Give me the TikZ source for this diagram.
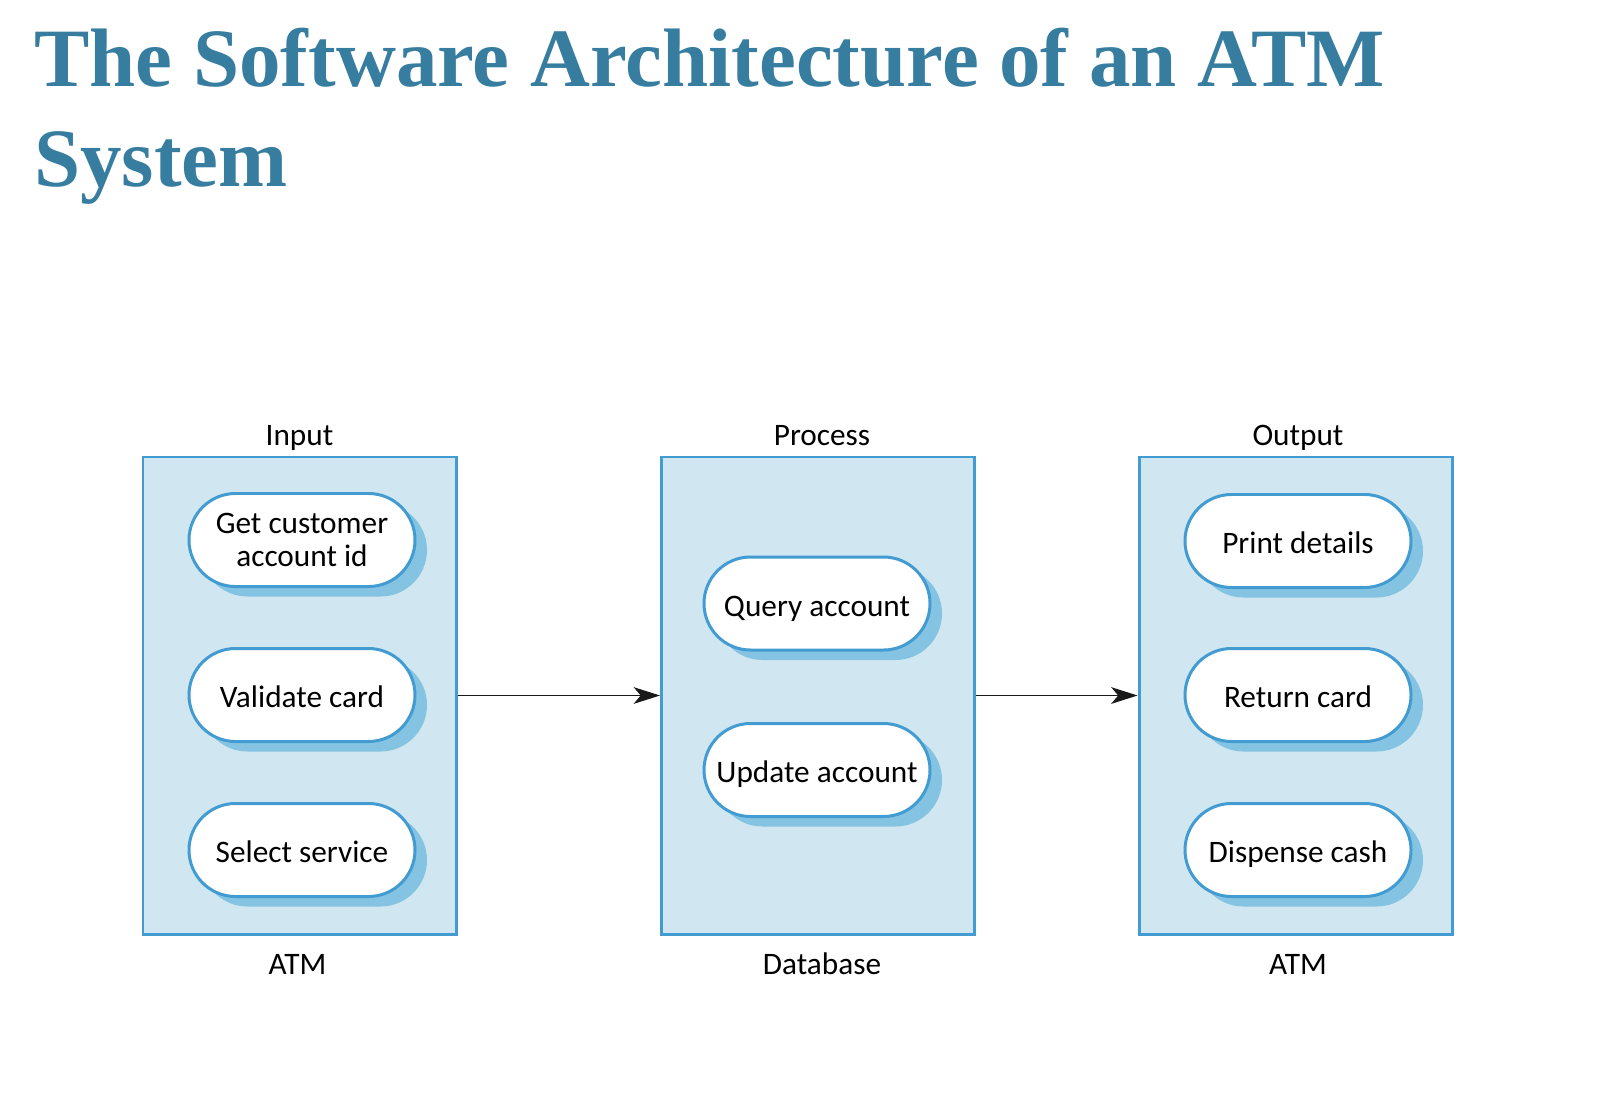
\documentclass[tikz,border=0pt]{standalone}
\usepackage{fontspec}
\setmainfont{Carlito}
\newfontfamily\titlefont{Liberation Serif}
\usetikzlibrary{arrows.meta,shapes.misc,shadows}

\definecolor{titleblue}{RGB}{55,125,160}
\definecolor{boxfill}{RGB}{208,230,240}
\definecolor{boxline}{RGB}{66,156,210}
\definecolor{shadowblue}{RGB}{132,196,226}

\tikzset{
  layer/.style={draw=boxline, fill=boxfill, line width=1.7pt, minimum width=6.26cm, minimum height=9.54cm, inner sep=0pt},
  pill/.style={rounded rectangle, draw=boxline, fill=white, line width=1.7pt, minimum width=4.52cm, minimum height=1.86cm, inner sep=0pt, align=center, font=\fontsize{17.8}{18.8}\selectfont,
    general shadow={fill=shadowblue, shadow xshift=0.24cm, shadow yshift=-0.2cm}},
  oneline/.style={text height=0.6cm, text depth=0.1cm},
  caption/.style={anchor=base, font=\fontsize{17.8}{18.8}\selectfont, inner sep=0pt},
  flow/.style={-{Stealth[length=15pt,width=9.5pt,inset=4pt]}, line width=0.7pt, black!90}
}

\begin{document}
\begin{tikzpicture}
        \useasboundingbox (0,0) rectangle (31.96,-22.2);

        % Title
        \node[anchor=north west, inner sep=0pt, align=left, text=titleblue, font=\titlefont\bfseries\fontsize{47.2}{57}\selectfont] (title) at (0.68,-0.55) {The Software Architecture of an ATM\\System};

        % Three layers
        \node[layer] (input) at (5.99,-13.91) {};
        \node[layer] (process) at (16.36,-13.91) {};
        \node[layer] (output) at (25.91,-13.91) {};

        % Layer names (top) and where they run (bottom)
        \node[caption] (inputname) at (5.99,-8.9) {Input};
        \node[caption] (processname) at (16.44,-8.9) {Process};
        \node[caption] (outputname) at (25.96,-8.9) {Output};
        \node[caption] (inputhost) at (5.95,-19.48) {ATM};
        \node[caption] (processhost) at (16.44,-19.48) {Database};
        \node[caption] (outputhost) at (25.96,-19.48) {ATM};

        % Input steps
        \node[pill] (getid) at (6.04,-10.8) {Get customer\\account id};
        \node[pill, oneline] (validate) at (6.04,-13.9) {Validate card};
        \node[pill, oneline] (select) at (6.04,-17.0) {Select service};

        % Process steps
        \node[pill, oneline] (query) at (16.34,-12.07) {Query account};
        \node[pill, oneline] (update) at (16.34,-15.4) {Update account};

        % Output steps
        \node[pill, oneline] (print) at (25.96,-10.82) {Print details};
        \node[pill, oneline] (return) at (25.96,-13.9) {Return card};
        \node[pill, oneline] (dispense) at (25.96,-17.0) {Dispense cash};

        % Flow between layers
        \draw[flow] (input.east) -- (process.west);
        \draw[flow] (process.east) -- (output.west);
    \end{tikzpicture}
\end{document}
